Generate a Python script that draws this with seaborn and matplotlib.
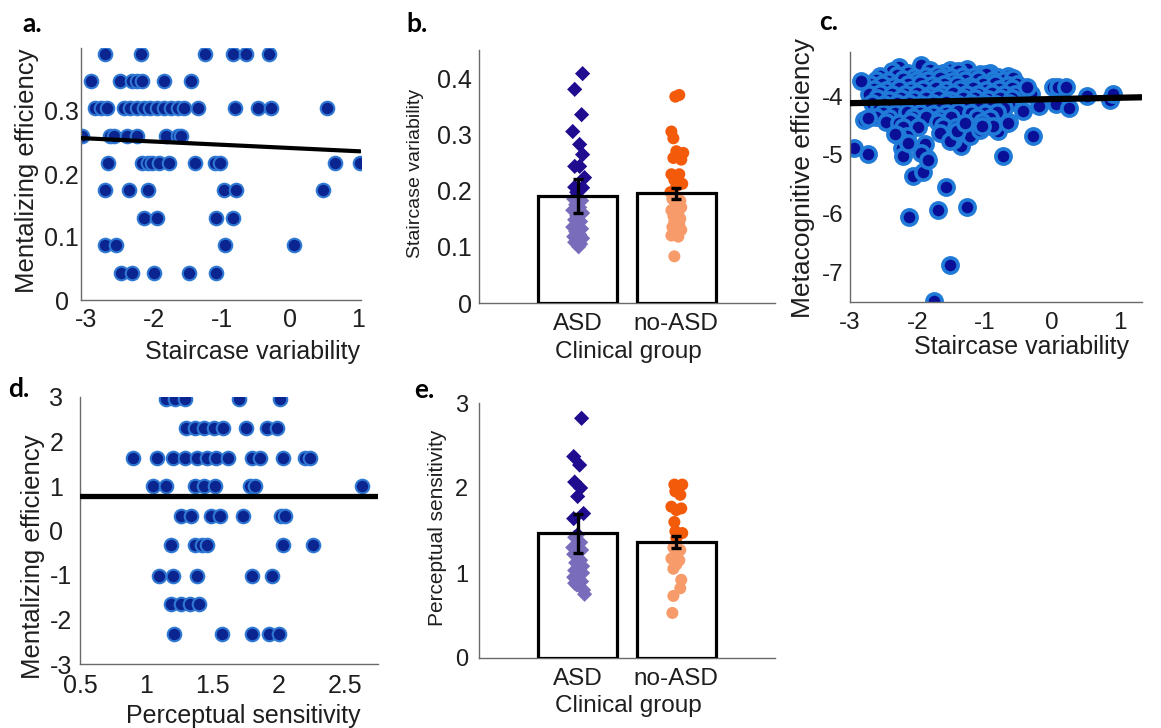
import numpy as np
import matplotlib
matplotlib.use("Agg")
import matplotlib.pyplot as plt
import seaborn as sns
from matplotlib.ticker import FixedLocator

# ------------------------------------------------------------------ data
# panel a : staircase variability vs mentalizing efficiency
a_x = [-2.71, -2.19, -1.25, -0.83, -0.64, -0.31,
       -2.93, -2.50, -2.32, -2.25, -2.18, -1.85, -1.46,
       -2.87, -2.78, -2.69, -2.44, -2.35, -2.25, -2.15, -2.05, -1.95, -1.85,
       -1.75, -1.65, -1.55, -1.35, -0.80, -0.47, -0.28, 0.54,
       -3.05, -2.64, -2.58, -2.39, -2.24, -1.82, -1.65, -1.60,
       -2.67, -2.17, -2.09, -2.02, -1.92, -1.77, -1.39, -1.10, -1.03, 0.67, 1.03,
       -2.71, -2.36, -2.08, -0.97, -0.79, 0.48,
       -2.14, -1.95, -1.08, -0.84,
       -2.71, -2.55, -0.96, 0.06,
       -2.48, -2.32, -2.00, -1.49, -1.08]
a_y = [0.391, 0.391, 0.391, 0.391, 0.391, 0.391,
       0.348, 0.348, 0.348, 0.348, 0.348, 0.348, 0.348,
       0.304, 0.304, 0.304, 0.304, 0.304, 0.304, 0.304, 0.304, 0.304, 0.304,
       0.304, 0.304, 0.304, 0.304, 0.304, 0.304, 0.304, 0.304,
       0.261, 0.261, 0.261, 0.261, 0.261, 0.261, 0.261, 0.261,
       0.217, 0.217, 0.217, 0.217, 0.217, 0.217, 0.217, 0.217, 0.217, 0.217, 0.217,
       0.174, 0.174, 0.174, 0.174, 0.174, 0.174,
       0.130, 0.130, 0.130, 0.130,
       0.087, 0.087, 0.087, 0.087,
       0.043, 0.043, 0.043, 0.043, 0.043]
a_fit_x = [-3.07, 1.03]
a_fit_y = [0.257, 0.236]

# panel b : staircase variability by clinical group
groups = ["ASD", "no-ASD"]
b_means = [0.190, 0.195]
b_err = [0.030, 0.010]
b_asd_y = [0.408, 0.380, 0.335, 0.305, 0.282, 0.264, 0.243, 0.243, 0.223, 0.206,
           0.205, 0.197, 0.185, 0.182, 0.175, 0.170, 0.165, 0.160, 0.155, 0.148,
           0.145, 0.140, 0.135, 0.132, 0.127, 0.122, 0.118, 0.115, 0.112, 0.108,
           0.105, 0.100]
b_asd_jit = [0.05, -0.03, 0.04, -0.05, 0.02, 0.05, -0.03, 0.02, 0.07, -0.03,
             0.05, -0.01, -0.04, 0.04, -0.02, 0.02, -0.05, 0.05, -0.01, -0.03,
             0.03, 0.00, -0.05, 0.04, -0.02, 0.02, -0.04, 0.05, 0.00, -0.03,
             0.03, 0.01]
b_no_y = [0.370, 0.367, 0.305, 0.293, 0.270, 0.267, 0.258, 0.255, 0.229, 0.229,
          0.219, 0.208, 0.212, 0.197, 0.185, 0.182, 0.175, 0.170, 0.165, 0.160,
          0.155, 0.150, 0.145, 0.140, 0.135, 0.130, 0.125, 0.120, 0.118, 0.083]
b_no_jit = [0.03, -0.01, -0.05, -0.03, 0.00, 0.07, -0.03, 0.05, -0.05, 0.03,
            -0.02, 0.00, 0.06, -0.06, -0.04, 0.04, -0.01, 0.05, -0.05, 0.02,
            -0.03, 0.04, -0.02, 0.03, -0.04, 0.05, -0.01, -0.05, 0.02, -0.02]

# panel c : staircase variability vs metacognitive efficiency
c_x = [-2.27, -1.95, -1.52, -1.27,
       -2.38, -2.14, -1.81, -1.62, -1.40, -1.07, -0.92,
       -2.55, -2.30, -2.05, -1.88, -1.70, -1.50, -1.33, -1.15, -0.98, -0.80, -0.66,
       -2.62, -2.44, -2.22, -2.01, -1.85, -1.67, -1.47, -1.29, -1.10, -0.88, -0.72, -0.58,
       -2.70, -2.53, -2.36, -2.14, -1.96, -1.78, -1.60, -1.42, -1.22, -1.03, -0.85, -0.65, -0.52,
       -2.65, -2.46, -2.28, -2.10, -1.92, -1.72, -1.57, -1.37, -1.18, -0.98, -0.79, -0.60,
       -2.72, -2.55, -2.37, -2.18, -2.00, -1.83, -1.65, -1.47, -1.28, -1.10, -0.90, -0.71, -0.55,
       -2.60, -2.42, -2.25, -2.05, -1.88, -1.70, -1.52, -1.33, -1.15, -0.95, -0.77, -0.60,
       -2.68, -2.50, -2.31, -2.12, -1.95, -1.77, -1.58, -1.40, -1.21, -1.02, -0.84, -0.64,
       -2.57, -2.38, -2.20, -2.02, -1.83, -1.65, -1.46, -1.28, -1.08, -0.90, -0.72,
       -2.51, -2.33, -2.15, -1.96, -1.77, -1.58, -1.40, -1.20, -1.00, -0.82,
       -2.62, -2.42, -2.06, -1.87, -1.66, -1.50, -1.12, -0.93,
       -2.47, -2.28, -2.11, -1.70, -1.30, -1.05,
       -2.21, -1.99, -1.62, -1.43, -0.88,
       -2.83, -2.94, -2.73, -2.79, -2.73,
       -2.06, -1.92, -2.12, -1.58, -1.69, -1.27, -1.52, -1.76,
       -0.73, -0.29, -2.23, -2.21, -1.89, -1.86, -2.16, -2.30,
       -1.35, -1.47, -1.22, -1.07, -0.80, -0.64, -0.43, -0.88, -0.65,
       0.01, 0.09, 0.21, 0.06, 0.25, -0.19, 0.51, 0.85, 0.90, -0.31, -0.38,
       -2.14, -1.94, -1.84, -1.67, -1.52, -1.42, -1.30, -1.05, -2.33]
c_y = [-3.50, -3.47, -3.56, -3.54,
       -3.58, -3.60, -3.56, -3.61, -3.58, -3.62, -3.60,
       -3.66, -3.64, -3.67, -3.65, -3.63, -3.67, -3.65, -3.66, -3.63, -3.68, -3.66,
       -3.72, -3.74, -3.71, -3.73, -3.72, -3.70, -3.74, -3.72, -3.71, -3.73, -3.72, -3.70,
       -3.80, -3.79, -3.82, -3.80, -3.78, -3.81, -3.80, -3.79, -3.82, -3.80, -3.78, -3.81, -3.80,
       -3.88, -3.90, -3.87, -3.89, -3.88, -3.86, -3.90, -3.88, -3.87, -3.89, -3.88, -3.87,
       -3.96, -3.95, -3.97, -3.96, -3.94, -3.98, -3.96, -3.95, -3.97, -3.96, -3.94, -3.97, -3.96,
       -4.04, -4.06, -4.03, -4.05, -4.04, -4.02, -4.06, -4.04, -4.03, -4.05, -4.04, -4.03,
       -4.12, -4.13, -4.11, -4.12, -4.14, -4.12, -4.10, -4.13, -4.12, -4.11, -4.13, -4.12,
       -4.20, -4.21, -4.19, -4.20, -4.22, -4.20, -4.18, -4.21, -4.20, -4.19, -4.21,
       -4.28, -4.29, -4.27, -4.28, -4.30, -4.28, -4.26, -4.29, -4.28, -4.27,
       -4.36, -4.37, -4.35, -4.36, -4.38, -4.36, -4.35, -4.37,
       -4.44, -4.45, -4.43, -4.44, -4.46, -4.44,
       -4.52, -4.53, -4.51, -4.52, -4.53,
       -3.74, -4.88, -4.98, -4.41, -4.37,
       -5.35, -5.29, -6.06, -5.55, -5.93, -5.88, -6.87, -7.49,
       -5.01, -4.68, -4.88, -5.02, -4.82, -5.05, -4.68, -4.66,
       -4.84, -4.74, -4.68, -4.57, -4.60, -4.44, -4.26, -4.50, -4.45,
       -3.84, -3.84, -3.84, -4.14, -4.21, -4.16, -4.00, -4.07, -3.96, -3.97, -3.85,
       -4.80, -4.97, -5.08, -4.63, -4.77, -4.60, -4.45, -4.51, -4.65]
c_fit_x = [-3.00, 1.32]
c_fit_y = [-4.12, -4.02]

# panel d : perceptual sensitivity vs mentalizing efficiency
d_x = [1.15, 1.22, 1.29, 1.70, 2.01,
       1.30, 1.37, 1.44, 1.51, 1.58, 1.75, 1.91, 1.99,
       0.90, 1.08, 1.20, 1.29, 1.38, 1.46, 1.53, 1.62, 1.80, 1.86, 2.03, 2.20, 2.24,
       1.05, 1.15, 1.37, 1.44, 1.52, 1.78, 1.82, 2.63,
       1.26, 1.34, 1.49, 1.56, 1.73, 2.02, 2.05,
       1.19, 1.37, 1.42, 1.46, 2.03, 2.26,
       1.10, 1.20, 1.38, 1.80, 1.95,
       1.19, 1.26, 1.33, 1.40,
       1.21, 1.57, 1.80, 1.93, 2.00]
d_y = [2.96, 2.96, 2.96, 2.96, 2.96,
       2.31, 2.31, 2.31, 2.31, 2.31, 2.31, 2.31, 2.31,
       1.64, 1.64, 1.64, 1.64, 1.64, 1.64, 1.64, 1.64, 1.64, 1.64, 1.64, 1.64, 1.64,
       0.99, 0.99, 0.99, 0.99, 0.99, 0.99, 0.99, 0.99,
       0.33, 0.33, 0.33, 0.33, 0.33, 0.33, 0.33,
       -0.33, -0.33, -0.33, -0.33, -0.33, -0.33,
       -1.03, -1.03, -1.03, -1.03, -1.03,
       -1.66, -1.66, -1.66, -1.66,
       -2.33, -2.33, -2.33, -2.33, -2.33]
d_fit_x = [0.50, 2.75]
d_fit_y = [0.78, 0.78]

# panel e : perceptual sensitivity by clinical group
e_means = [1.47, 1.36]
e_err = [0.23, 0.07]
e_asd_y = [2.82, 2.37, 2.27, 2.07, 2.00, 1.90, 1.70, 1.64, 1.45, 1.42, 1.36, 1.32,
           1.30, 1.27, 1.22, 1.17, 1.15, 1.12, 1.08, 1.03, 1.00, 0.98, 0.95, 0.90,
           0.88, 0.86, 0.80, 0.75]
e_asd_jit = [0.04, -0.04, 0.02, -0.03, 0.03, 0.00, 0.06, -0.04, 0.00, -0.03, 0.03, -0.01,
             -0.05, 0.04, -0.04, 0.01, 0.03, -0.02, 0.05, -0.03, 0.05, 0.02, -0.04, 0.04,
             -0.03, -0.01, 0.06, 0.07]
e_no_y = [2.04, 2.04, 1.96, 1.92, 1.78, 1.76, 1.74, 1.60, 1.49, 1.47, 1.41, 1.30,
          1.27, 1.22, 1.17, 1.15, 1.10, 1.05, 0.92, 0.82, 0.73, 0.53]
e_no_jit = [-0.02, 0.06, -0.01, 0.04, -0.05, 0.05, 0.00, -0.02, -0.01, 0.06, 0.00, -0.03,
            0.04, -0.01, -0.05, 0.03, 0.00, -0.03, 0.05, 0.04, -0.03, -0.04]

# ------------------------------------------------------------------ style
sns.set_theme(style="white")
plt.rcParams["font.family"] = ["Liberation Sans", "DejaVu Sans"]
TXT = "#1e1e1e"
AXC = "#6a6a6a"
DOT_FACE = "#0b2590"
DOT_EDGE = "#2f78d4"
ASD_C = "#200c8e"
NO_C = "#f35a0a"

fig = plt.figure(figsize=(11.61, 7.28), dpi=100)
W, H = 1161.0, 728.0


def add_ax(l, t, r, b):
    return fig.add_axes([l / W, 1 - b / H, (r - l) / W, (b - t) / H])


def base_style(ax):
    ax.set_facecolor("white")
    for s in ["top", "right"]:
        ax.spines[s].set_visible(False)
    for s in ["left", "bottom"]:
        ax.spines[s].set_color(AXC)
        ax.spines[s].set_linewidth(1.0)
    ax.tick_params(which="both", direction="in", colors=AXC, labelcolor=TXT)
    ax.grid(False)


# ---------------- panel a
ax = add_ax(81, 48, 361, 300)
base_style(ax)
sns.scatterplot(x=a_x, y=a_y, ax=ax, s=95, color=DOT_FACE, edgecolor=DOT_EDGE,
                linewidth=1.5, zorder=2, legend=False)
sns.lineplot(x=a_fit_x, y=a_fit_y, ax=ax, color="black", lw=3.0, zorder=3)
ax.set_xlim(-3.07, 1.045)
ax.set_ylim(0, 0.4)
ax.set_xticks([-3, -2, -1, 0, 1])
ax.set_xticklabels(["-3", "-2", "-1", "0", "1"], fontsize=18)
ax.set_yticks([0, 0.1, 0.2, 0.3])
ax.set_yticklabels(["0", "0.1", "0.2", "0.3"], fontsize=18)
ax.xaxis.set_minor_locator(FixedLocator([-2.91, -2.28, -1.65, -1.02, -0.39, 0.24, 0.87]))
ax.yaxis.set_minor_locator(FixedLocator([0.05, 0.1, 0.15, 0.2, 0.25, 0.3, 0.35]))
ax.tick_params(which="major", length=0)
ax.tick_params(axis="x", which="major", pad=6)
ax.tick_params(axis="y", which="major", pad=14)
ax.tick_params(which="minor", length=4)
for lab in ax.get_yticklabels():
    lab.set_ha("center")
ax.set_xlabel("Staircase variability", fontsize=18, color=TXT)
ax.xaxis.set_label_coords(0.611, -0.206)
ax.xaxis.label.set_va("center")
ax.set_ylabel("Mentalizing efficiency", fontsize=18.5, color=TXT)
ax.yaxis.set_label_coords(-0.193, 0.512)
ax.yaxis.label.set_va("center")


def bar_panel(ax, means, err, asd_y, asd_jit, no_y, no_jit, ylim, yticks, yticklabels,
              ylabel, ytick_fs, ylabel_fs, ypad, ylab_coords, xlab_coords):
    base_style(ax)
    sns.scatterplot(x=1 + np.array(asd_jit), y=asd_y, ax=ax, marker="D", s=60,
                    color=ASD_C, edgecolor="none", zorder=2, legend=False)
    sns.scatterplot(x=2 + np.array(no_jit), y=no_y, ax=ax, marker="o", s=75,
                    color=NO_C, edgecolor="none", zorder=2, legend=False)
    ax.bar([1, 2], means, width=0.8, facecolor=(1, 1, 1, 0.4), edgecolor="black",
           linewidth=2.3, zorder=3)
    ax.errorbar([1, 2], means, yerr=err, fmt="none", ecolor="black", elinewidth=2.4,
                capsize=3.5, capthick=2.4, zorder=4)
    ax.set_xlim(0, 3)
    ax.set_ylim(*ylim)
    ax.set_xticks([1, 2])
    ax.set_xticklabels(groups, fontsize=17.5)
    ax.set_yticks(yticks)
    ax.set_yticklabels(yticklabels, fontsize=ytick_fs)
    ax.tick_params(axis="x", length=0, pad=7)
    ax.tick_params(axis="y", length=3, pad=ypad)
    ax.set_xlabel("Clinical group", fontsize=17.5, color=TXT)
    ax.xaxis.set_label_coords(*xlab_coords)
    ax.xaxis.label.set_va("center")
    ax.set_ylabel(ylabel, fontsize=ylabel_fs, color=TXT)
    ax.yaxis.set_label_coords(*ylab_coords)
    ax.yaxis.label.set_va("center")


# ---------------- panel b
ax = add_ax(479, 50, 775, 303)
bar_panel(ax, b_means, b_err, b_asd_y, b_asd_jit, b_no_y, b_no_jit, (0, 0.45),
          [0, 0.1, 0.2, 0.3, 0.4], ["0", "0.1", "0.2", "0.3", "0.4"],
          "Staircase variability", 18, 14, 5, (-0.216, 0.514), (0.503, -0.194))

# ---------------- panel c
ax = add_ax(850, 52, 1142, 302)
base_style(ax)
sns.scatterplot(x=c_x, y=c_y, ax=ax, s=120, color="#0a0f98", edgecolor="#1f7ad8",
                linewidth=2.6, zorder=2, legend=False)
sns.lineplot(x=c_fit_x, y=c_fit_y, ax=ax, color="black", lw=4.5, zorder=3)
ax.set_xlim(-3.0, 1.33)
ax.set_ylim(-7.5, -3.25)
ax.set_xticks([-3, -2, -1, 0, 1])
ax.set_xticklabels(["-3", "-2", "-1", "0", "1"], fontsize=17.5)
ax.set_yticks([-7, -6, -5, -4])
ax.set_yticklabels(["-7", "-6", "-5", "-4"], fontsize=17.5)
ax.xaxis.set_minor_locator(FixedLocator(np.linspace(-3.0, 1.33, 6)))
ax.yaxis.set_minor_locator(FixedLocator(np.linspace(-7.5, -3.25, 9)))
ax.tick_params(which="major", length=0)
ax.tick_params(axis="x", which="major", pad=7)
ax.tick_params(axis="y", which="major", pad=5)
ax.tick_params(which="minor", length=4)
ax.set_xlabel("Staircase variability", fontsize=18, color=TXT)
ax.xaxis.set_label_coords(0.589, -0.178)
ax.xaxis.label.set_va("center")
ax.set_ylabel("Metacognitive efficiency", fontsize=19, color=TXT)
ax.yaxis.set_label_coords(-0.161, 0.496)
ax.yaxis.label.set_va("center")

# ---------------- panel d
ax = add_ax(80, 397, 378, 664)
base_style(ax)
sns.scatterplot(x=d_x, y=d_y, ax=ax, s=95, color=DOT_FACE, edgecolor=DOT_EDGE,
                linewidth=1.5, zorder=2, legend=False)
sns.lineplot(x=d_fit_x, y=d_fit_y, ax=ax, color="black", lw=3.8, zorder=3)
ax.set_xlim(0.5, 2.75)
ax.set_ylim(-3, 3)
ax.set_xticks([0.5, 1, 1.5, 2, 2.5])
ax.set_xticklabels(["0.5", "1", "1.5", "2", "2.5"], fontsize=18)
ax.set_yticks([-3, -2, -1, 0, 1, 2, 3])
ax.set_yticklabels(["-3", "-2", "-1", "0", "1", "2", "3"], fontsize=18)
ax.xaxis.set_minor_locator(FixedLocator(np.linspace(0.5, 2.75, 7)))
ax.yaxis.set_minor_locator(FixedLocator(np.linspace(-3, 3, 9)))
ax.tick_params(which="major", length=0)
ax.tick_params(axis="x", which="major", pad=7)
ax.tick_params(axis="y", which="major", pad=22)
ax.tick_params(which="minor", length=4)
for lab in ax.get_yticklabels():
    lab.set_ha("left")
ax.set_xlabel("Perceptual sensitivity", fontsize=18, color=TXT)
ax.xaxis.set_label_coords(0.547, -0.195)
ax.xaxis.label.set_va("center")
ax.set_ylabel("Mentalizing efficiency", fontsize=18.5, color=TXT)
ax.yaxis.set_label_coords(-0.158, 0.40)
ax.yaxis.label.set_va("center")

# ---------------- panel e
ax = add_ax(479, 403, 775, 658)
bar_panel(ax, e_means, e_err, e_asd_y, e_asd_jit, e_no_y, e_no_jit, (0, 3),
          [0, 1, 2, 3], ["0", "1", "2", "3"], "Perceptual sensitivity", 17, 15,
          8, (-0.139, 0.51), (0.503, -0.19))

# ---------------- panel letters
for lab, px, py in [("a.", 22, 32), ("b.", 406, 32), ("c.", 819, 30),
                    ("d.", 8, 397), ("e.", 414, 398)]:
    fig.text(px / W, 1 - py / H, lab, fontsize=19, fontweight="bold",
             family=["Lato", "DejaVu Sans"], color="black", va="baseline", ha="left")

fig.savefig("out.png", dpi=100, facecolor="white")
